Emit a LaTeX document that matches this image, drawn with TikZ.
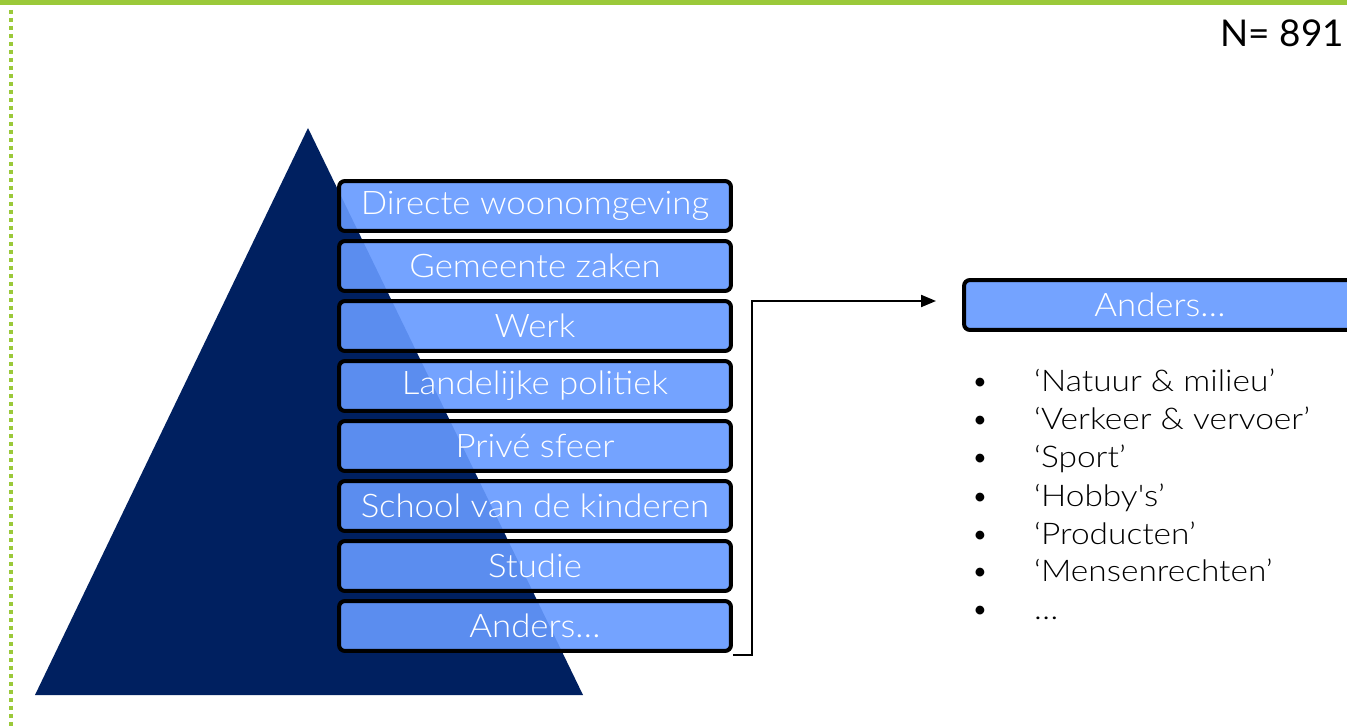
\documentclass[tikz,border=0pt]{standalone}
\usepackage{fontspec}
\setmainfont{Lato}[UprightFont={* Light}]
\newfontfamily\numfont{Lato}
\newfontfamily\widefont{Lato}[UprightFont={* Light}, FakeStretch=1.07]
\newfontfamily\listfont{Lato}[UprightFont={* Light}, FakeStretch=1.12]
\usetikzlibrary{arrows.meta}

\definecolor{bandgreen}{RGB}{155,201,58}
\definecolor{pyrnavy}{RGB}{0,32,96}
\definecolor{layerblue}{RGB}{101,153,255}

\tikzset{
	layer/.style={draw=black, line width=0.08cm, rounded corners=0.12cm, fill=layerblue, fill opacity=0.9, text opacity=1, text=white, inner sep=0pt, minimum width=7.84cm, minimum height=1cm, font=\widefont\fontsize{18.5}{20}\selectfont},
	bullet/.style={anchor=base, font=\fontsize{17}{20}\selectfont},
	item/.style={anchor=base west, font=\listfont\fontsize{17}{20}\selectfont},
	link/.style={draw=black, line width=0.04cm, -{Triangle[length=0.3cm,width=0.24cm]}},
}

\begin{document}
\begin{tikzpicture}[x=0.02cm, y=-0.02cm]
				
				\useasboundingbox (0,0) rectangle (1347,726);
				\fill[white] (0,0) rectangle (1347,726);
				\fill[bandgreen] (0,0) rectangle (1347,5);
				\draw[bandgreen, line width=0.08cm, dash pattern=on 0.08cm off 0.08cm] (11,10) -- (11,726);
				
				\node[anchor=base east, font=\numfont\fontsize{21}{24}\selectfont] (lblN) at (1350,47) {N= 891};
				
				\fill[pyrnavy] (308,128) -- (583,695) -- (35,695) -- cycle;
				
				\node[layer] (lyrDirect) at (535,206) {Directe woonomgeving};
				\node[layer] (lyrGemeente) at (535,266) {Gemeente zaken};
				\node[layer] (lyrWerk) at (535,326) {Werk};
				\node[layer] (lyrLandelijk) at (535,386) {Landelijke politiek};
				\node[layer] (lyrPrive) at (535,446) {Privé sfeer};
				\node[layer] (lyrSchool) at (535,506) {School van de kinderen};
				\node[layer] (lyrStudie) at (535,566) {Studie};
				\node[layer] (lyrAnders) at (535,626) {Anders…};
				
				\node[layer] (lblAnders) at (1160,305) {Anders…};
				
				\coordinate (bend) at (752,301);
				\draw[link] ([yshift=-0.04cm]lyrAnders.south east) -| (bend) -- ([xshift=-0.52cm]bend -| lblAnders.west);
				
				\node[bullet] (b1) at (980,392) {•};
				\node[item] (itmNatuur) at (1028,392) {‘Natuur \& milieu’};
				\node[bullet] (b2) at (980,430) {•};
				\node[item] (itmVerkeer) at (1028,430) {‘Verkeer \& vervoer’};
				\node[bullet] (b3) at (980,468) {•};
				\node[item] (itmSport) at (1028,468) {‘Sport’};
				\node[bullet] (b4) at (980,506) {•};
				\node[item] (itmHobby) at (1028,506) {‘Hobby's’};
				\node[bullet] (b5) at (980,544) {•};
				\node[item] (itmProduct) at (1028,544) {‘Producten’};
				\node[bullet] (b6) at (980,582) {•};
				\node[item] (itmMensen) at (1028,582) {‘Mensenrechten’};
				\node[bullet] (b7) at (980,620) {•};
				\node[item] (itmMore) at (1028,620) {…};
				
			\end{tikzpicture}
\end{document}
